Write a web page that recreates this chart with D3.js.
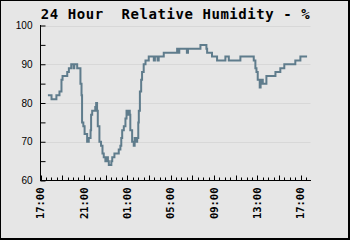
<!DOCTYPE html>
<html><head><meta charset="utf-8">
<script src="https://cdn.jsdelivr.net/npm/d3@7"></script>
<style>html,body{margin:0;padding:0;background:#e6e6e6}svg{display:block}</style>
</head><body>
<svg id="c" width="350" height="240"></svg>
<script>
const titleText = "24 Hour  Relative Humidity - %";
const times = ["17:41","18:01","18:28","18:45","18:56","19:02","19:28","19:37","19:50","20:03","20:07","20:23","20:41","20:47","20:50","20:57","21:04","21:18","21:27","21:37","21:40","21:46","22:03","22:08","22:13","22:17","22:26","22:35","22:43","22:50","22:59","23:08","23:13","23:18","23:32","23:37","23:49","00:13","00:22","00:27","00:32","00:41","00:50","00:56","01:03","01:08","01:14","01:17","01:27","01:36","01:41","01:48","01:55","02:01","02:04","02:10","02:17","02:22","02:31","02:41","02:59","03:27","03:33","03:48","03:54","04:22","05:36","05:42","05:48","06:30","06:36","07:45","08:18","08:22","08:49","09:17","10:03","10:22","11:26","12:40","12:49","12:55","13:02","13:13","13:18","13:22","13:30","13:50","14:40","15:07","15:29","16:30","16:58","17:35"];
const humidity = [82,81,82,83,86,87,88,89,90,89,90,89,85,82,75,74,72,70,71,73,77,78,79,80,78,74,70,69,67,66,65,66,65,64,65,66,67,68,69,71,73,74,76,78,77,78,77,73,70,69,71,70,71,75,78,83,86,88,90,91,92,91,92,91,92,93,94,93,94,93,94,95,94,93,92,91,92,91,92,91,89,88,86,84,85,86,85,87,88,89,90,91,92,92];
const yTicks = [60,70,80,90,100];
const xTickLabels = ["17:00","21:00","01:00","05:00","09:00","13:00","17:00"];

const svg = d3.select("#c");
const W = 350, H = 240;
// frame with shadow
svg.append("rect").attr("x",0).attr("y",0).attr("width",W).attr("height",H).attr("fill","#000");
svg.append("rect").attr("x",1).attr("y",1).attr("width",W-3).attr("height",H-3).attr("fill","#e6e6e6");

const t0 = new Date(2020,0,1,17,0);
let day = 0, prev = -1;
const data = times.map((t,i)=>{
  const [hh,mm] = t.split(":").map(Number);
  const m = hh*60+mm;
  if (prev>=0 && m < prev) day++;
  prev = m;
  const d = new Date(2020,0,1+day,hh,mm);
  return {date:d, value:humidity[i]};
});

const x = d3.scaleTime().domain([t0, new Date(t0.getTime()+24.9*3600e3)]).range([40.5, 310.5]);
const y = d3.scaleLinear().domain([60,100]).range([180.5,25.5]);

// grid
svg.append("g").selectAll("line").data(yTicks.filter(v=>v>60)).join("line")
  .attr("x1",41).attr("x2",310.5).attr("y1",d=>Math.round(y(d))+0.5).attr("y2",d=>Math.round(y(d))+0.5)
  .attr("stroke","#d8d8d8").attr("stroke-width",1);

// line
const line = d3.line().x(d=>x(d.date)).y(d=>y(d.value)).curve(d3.curveStepAfter);
svg.append("path").datum(data).attr("d",line).attr("fill","none")
  .attr("stroke","#5f7c8c").attr("stroke-width",2);

// y axis
const yAxis = d3.axisRight(y).tickValues(d3.range(60,101,5)).tickSize(5).tickFormat("");
const gy = svg.append("g").attr("transform","translate(40.5,0)").call(yAxis);
gy.select(".domain").attr("stroke","#000").attr("d","M0,25V180.5");
gy.selectAll(".tick line").attr("stroke","#000");
svg.append("g").selectAll("text").data(yTicks).join("text")
  .attr("x",32.5).attr("y",d=>y(d)).attr("dy","0.35em").attr("text-anchor","end")
  .attr("font-family","Liberation Sans, Arial, sans-serif").attr("font-size",10).attr("fill","#000")
  .text(d=>d);

// x axis
const gx = svg.append("g").attr("transform","translate(0,180.5)");
gx.append("line").attr("x1",40).attr("x2",311).attr("y1",0).attr("y2",0).attr("stroke","#000");
const minor = d3.timeMinute.every(30).range(t0, x.domain()[1]);
gx.selectAll("line.t").data(minor).join("line").attr("class","t")
  .attr("x1",d=>Math.round(x(d))+0.5).attr("x2",d=>Math.round(x(d))+0.5)
  .attr("y1",0).attr("y2",d=>{const h=(d-t0)/3600e3; return (Math.abs(h/2-Math.round(h/2))<1e-6)?-5:-3;})
  .attr("stroke","#000");
const majors = d3.range(0,25,4).map(h=>new Date(t0.getTime()+h*3600e3));
gx.selectAll("text").data(majors).join("text")
  .attr("transform",d=>`translate(${x(d)},7) rotate(-90)`)
  .attr("text-anchor","end").attr("dy","0.35em")
  .attr("font-family","DejaVu Sans Mono, monospace").attr("font-weight","bold").attr("font-size",10.5)
  .attr("fill","#000")
  .text((d,i)=>xTickLabels[i]);

// title
svg.append("text").attr("x",175.5).attr("y",19).attr("text-anchor","middle")
  .attr("font-family","DejaVu Sans Mono, monospace").attr("font-weight","bold").attr("font-size",14)
  .attr("letter-spacing",0.55).attr("fill","#000").attr("xml:space","preserve")
  .style("white-space","pre").text(titleText);
</script>
</body></html>
